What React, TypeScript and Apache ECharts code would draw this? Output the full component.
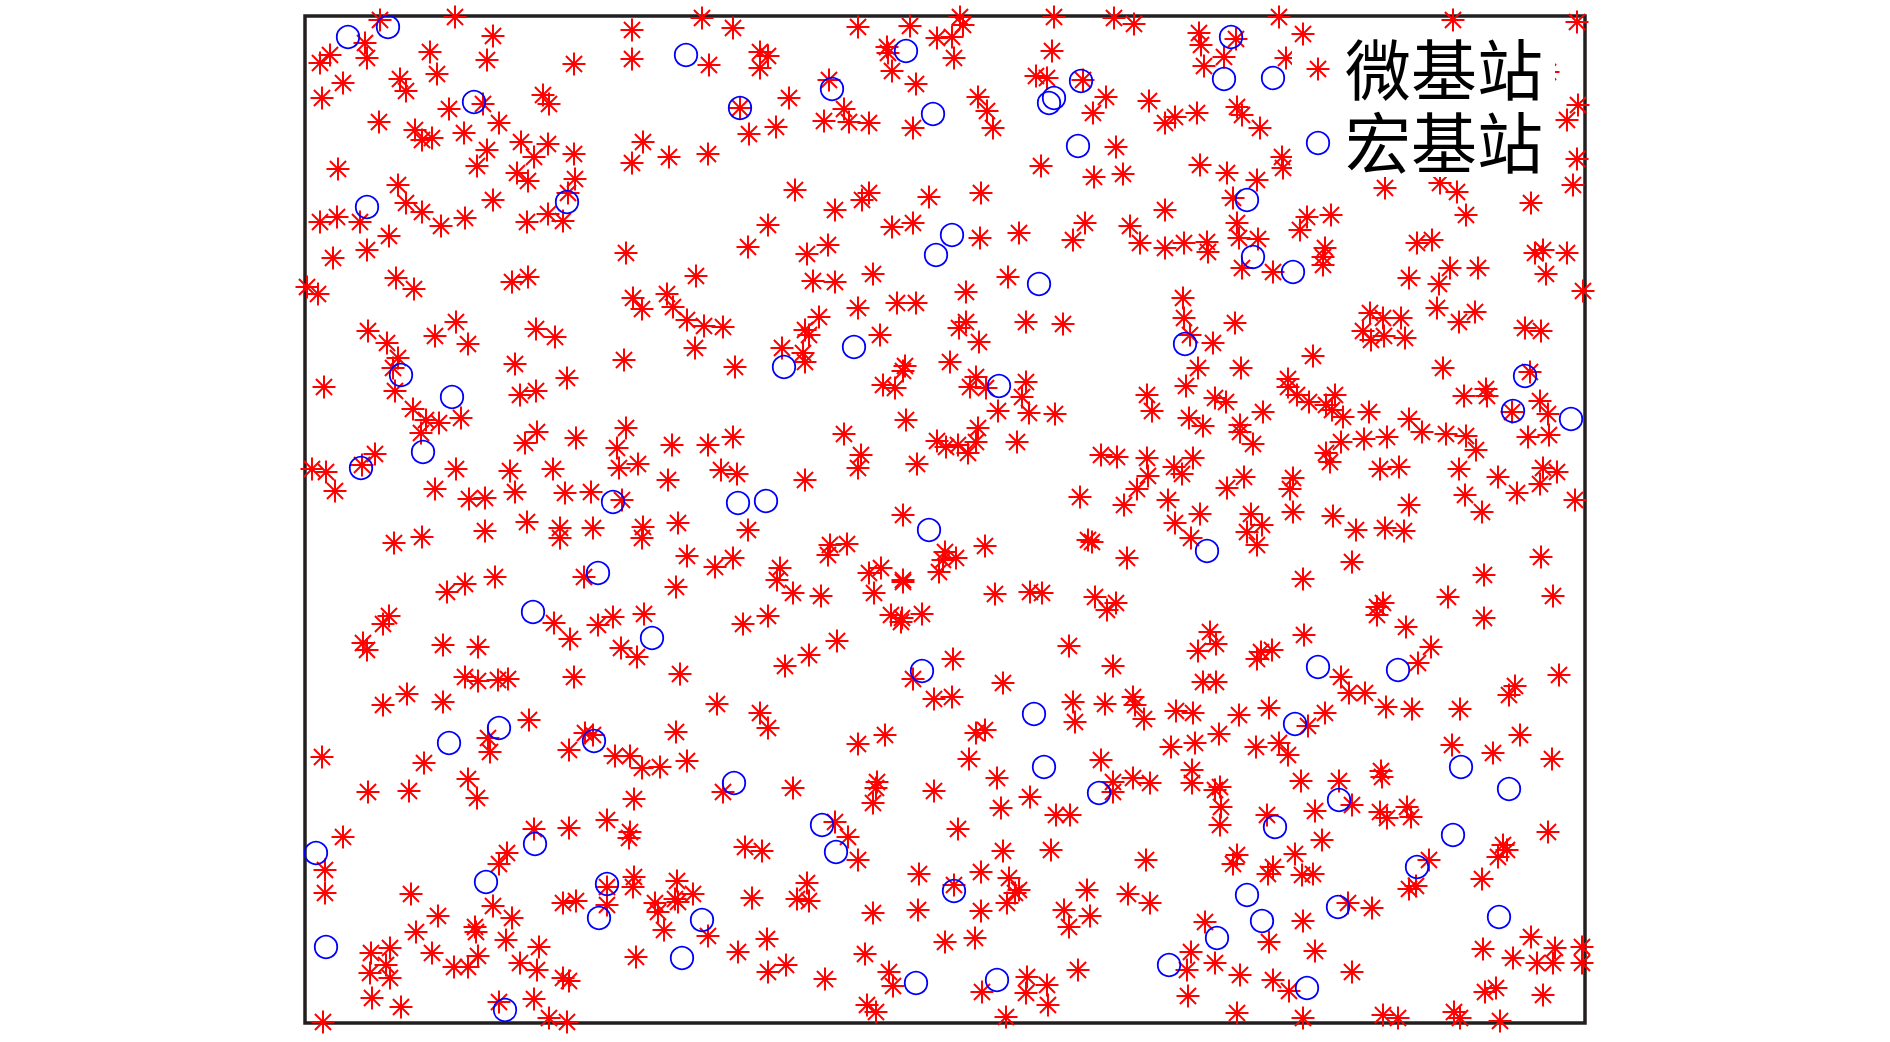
import React, { useEffect, useRef } from "react";
import * as echarts from "echarts";

// Plot area in data units (x: 0..1280, y: 0..1007)
const X_MAX = 1280;
const Y_MAX = 1007;

const seriesNames = ["微基站", "宏基站"];

// 微基站 (red asterisks)
const microBS: number[][] = [
  [75,1003],[150,1006],[188,987],[327,993],[397,1005],[60,980],[25,968],[15,960],[62,965],[125,971],
  [182,963],[269,959],[327,964],[404,958],[38,940],[95,944],[101,932],[132,949],[17,925],[144,914],
  [178,919],[238,928],[244,919],[74,901],[110,893],[117,883],[127,885],[159,890],[194,900],[216,881],
  [243,879],[182,873],[172,857],[229,866],[269,869],[212,850],[223,842],[270,844],[338,881],[327,860],
  [364,866],[403,869],[33,854],[93,838],[101,820],[117,811],[188,823],[263,830],[15,801],[32,806],
  [55,801],[84,787],[136,797],[160,805],[222,801],[243,809],[258,802],[28,765],[62,773],[321,770],
  [428,995],[553,996],[605,997],[655,1006],[658,998],[632,985],[647,986],[649,965],[749,1006],[809,1005],
  [829,999],[455,971],[463,967],[455,955],[582,976],[583,970],[587,952],[611,939],[747,972],[731,947],
  [742,945],[778,943],[801,926],[788,910],[844,922],[524,943],[484,925],[435,915],[444,889],[471,896],
  [519,902],[539,914],[544,901],[564,900],[608,895],[673,926],[682,912],[688,895],[811,876],[736,857],
  [789,846],[818,849],[490,833],[530,813],[557,823],[564,830],[624,826],[676,830],[463,798],[443,776],
  [502,769],[523,778],[587,796],[608,800],[675,785],[714,790],[780,800],[768,783],[825,797],[835,780],
  [974,1006],[1148,1003],[1272,1001],[894,990],[896,978],[931,984],[998,989],[919,966],[899,957],[981,965],
  [1243,951],[1273,918],[1262,903],[1272,864],[1268,838],[1226,820],[860,900],[870,906],[892,910],[932,916],
  [937,908],[955,895],[977,866],[978,855],[895,858],[922,850],[952,843],[928,825],[860,813],[932,800],
  [934,785],[953,784],[879,780],[902,781],[903,771],[860,775],[1002,806],[995,793],[1026,808],[1020,775],
  [1018,766],[1080,835],[1135,840],[1152,831],[1161,808],[1112,780],[1127,783],[1230,770],[1238,773],[1262,770],
  [2,736],[13,729],[91,745],[109,734],[207,741],[223,746],[391,747],[63,692],[82,680],[93,665],
  [88,655],[90,632],[130,687],[151,701],[163,679],[231,694],[250,686],[328,725],[337,714],[362,729],
  [368,716],[382,703],[399,697],[418,696],[390,675],[319,663],[210,659],[215,628],[231,632],[262,645],
  [19,636],[108,614],[121,603],[134,600],[156,605],[116,590],[70,569],[57,558],[7,554],[21,551],
  [30,532],[151,554],[130,534],[164,524],[180,525],[205,552],[210,531],[220,580],[232,591],[271,585],
  [248,554],[260,530],[286,531],[321,595],[312,575],[314,555],[333,559],[317,523],[367,578],[403,578],
  [416,553],[363,543],
  [508,742],[530,741],[568,749],[703,746],[661,731],[553,715],[592,720],[611,720],[721,701],[758,699],
  [514,706],[500,693],[504,688],[477,675],[498,670],[500,661],[430,656],[575,688],[654,695],[661,701],
  [674,681],[645,661],[600,657],[598,652],[578,638],[590,635],[671,646],[665,636],[681,635],[721,641],
  [717,626],[693,612],[724,610],[750,609],[842,628],[847,612],[601,603],[539,589],[428,586],[556,568],
  [553,555],[612,559],[632,582],[641,576],[653,578],[663,570],[673,595],[671,581],[712,581],[500,543],
  [432,549],[796,568],[812,566],[842,565],[843,547],[832,534],[775,526],[819,518],[598,508],
  [937,755],[968,751],[1018,758],[1104,745],[1134,739],[1145,755],[1173,755],[1241,749],[1278,732],[878,725],
  [879,705],[885,688],[930,700],[908,680],[893,655],[936,655],[881,637],[1008,667],[1065,710],[1078,705],
  [1096,705],[1058,692],[1066,683],[1079,687],[1100,685],[1132,715],[1154,701],[1170,711],[1220,695],[1236,692],
  [1138,655],[1225,651],[983,644],[983,636],[992,628],[1004,621],[1021,618],[1030,628],[1027,613],[1038,606],
  [1064,611],[910,625],[921,621],[958,611],[884,605],[898,597],[935,598],[935,591],[948,579],[1159,627],
  [1181,634],[1182,627],[1207,611],[1235,622],[1243,609],[1223,586],[1244,588],[1104,604],[1117,591],[1141,589],
  [1161,587],[1171,573],[1082,586],[1059,584],[1036,581],[1021,570],[1025,561],[869,556],[877,549],[888,565],
  [939,546],[922,535],[988,545],[985,534],[1075,554],[1094,556],[1154,554],[1193,546],[1212,530],[1238,555],
  [1252,551],[1235,539],[1160,528],[1270,523],[863,523],[1104,518],[1177,511],[895,509],[946,509],[988,511],
  [1028,507],
  [222,501],[255,495],[255,485],[288,495],[338,496],[337,485],[373,500],[180,492],[89,480],[117,486],
  [382,467],[410,456],[428,465],[190,446],[160,439],[142,431],[279,446],[371,436],[84,407],[78,399],
  [58,380],[62,373],[138,378],[173,376],[249,400],[265,384],[293,398],[308,406],[339,409],[316,375],
  [332,366],[269,346],[375,349],[160,346],[173,342],[193,343],[203,344],[78,318],[102,329],[138,321],
  [412,319],[224,303],[183,285],[185,271],[280,290],[288,288],[264,273],[371,291],[310,267],[325,267],
  [337,255],[355,256],[382,262],[17,266],[119,260],
  [443,493],[525,478],[542,479],[523,468],[475,455],[472,443],[488,430],[516,427],[564,450],[576,455],
  [569,430],[598,443],[598,441],[586,408],[597,405],[596,401],[617,409],[640,471],[651,465],[638,463],
  [634,451],[680,477],[690,429],[725,431],[737,430],[783,483],[787,481],[822,465],[790,426],[802,413],
  [811,420],[438,399],[463,407],[532,382],[504,368],[480,357],[648,364],[608,344],[629,324],[647,326],
  [698,340],[764,377],[808,357],[455,310],[463,295],[553,279],[580,288],[671,290],[680,293],[664,264],
  [768,321],[770,301],[800,319],[828,326],[830,318],[839,304],[796,263],
  [870,500],[942,491],[957,498],[952,478],[1051,493],[1080,495],[1099,492],[886,485],[1047,461],[998,444],
  [1236,466],[1179,448],[1143,426],[1248,427],[1179,405],[1072,416],[1078,420],[1072,408],[1101,396],[905,391],
  [911,379],[893,372],[956,371],[967,373],[952,364],[999,388],[1126,376],[1113,360],[898,341],[911,341],
  [1036,346],[1044,330],[1060,330],[1081,316],[1107,314],[1155,314],[1210,337],[1204,328],[1254,348],[871,312],
  [888,310],[934,308],[964,315],[1020,310],[1003,297],[914,289],[890,280],[866,276],[951,276],[974,280],
  [983,268],[1147,278],[1188,270],[1215,288],[1247,264],[887,253],[1076,252],
  [63,231],[104,232],[163,244],[172,225],[329,224],[418,231],[38,186],[20,153],[20,130],[106,129],
  [229,194],[264,195],[302,203],[325,191],[324,185],[202,170],[194,159],[329,146],[328,136],[302,136],
  [302,118],[258,120],[271,122],[188,117],[207,105],[133,107],[111,91],[170,96],[171,91],[201,83],
  [372,142],[388,129],[350,120],[370,124],[373,121],[353,111],[359,93],[403,87],[66,70],[85,75],
  [81,58],[65,50],[85,45],[127,70],[149,56],[163,56],[173,67],[234,76],[215,60],[232,53],
  [258,45],[264,42],[331,66],[67,25],[96,16],[194,21],[229,24],[244,5],[262,1],[18,1],
  [488,235],[572,241],[571,235],[568,220],[629,232],[692,245],[696,215],[725,226],[751,208],[765,208],
  [808,241],[808,231],[828,245],[845,240],[530,201],[543,186],[553,163],[440,176],[457,172],[653,194],
  [698,172],[746,173],[841,163],[614,149],[502,140],[492,124],[504,122],[447,125],[568,110],[613,113],
  [649,138],[676,151],[704,145],[714,133],[710,130],[702,120],[676,112],[782,133],[823,129],[845,120],
  [759,113],[785,107],[764,96],[670,85],[640,81],[462,84],[433,71],[463,51],[481,58],[520,44],
  [560,69],[584,51],[588,37],[562,18],[571,11],[677,31],[722,46],[721,30],[742,38],[743,18],
  [701,6],[773,53],
  [887,240],[915,236],[910,233],[916,216],[915,198],[996,242],[1034,242],[1077,246],[1047,218],[1010,212],
  [962,208],[1075,211],[1082,205],[1102,216],[1106,206],[1017,183],[1243,191],[1198,178],[1202,173],[1193,166],
  [932,168],[928,159],[968,156],[963,149],[990,169],[997,148],[1008,149],[1124,163],[1111,137],[1104,134],
  [1177,144],[1043,120],[1067,115],[900,101],[998,102],[964,81],[1010,72],[886,71],[882,53],[910,60],
  [935,48],[968,43],[984,32],[883,27],[932,10],[998,5],[1047,51],[1078,8],[1093,5],[1149,11],
  [1155,5],[1195,2],[1178,74],[1208,65],[1226,86],[1232,60],[1250,75],[1248,60],[1277,76],[1277,60],
  [1180,31],[1191,35],[1238,28],
];

// 宏基站 (blue circles)
const macroBS: number[][] = [
  [43,986],[83,996],[381,968],[169,921],[62,816],[262,821],
  [601,972],[527,934],[435,915],[628,909],[776,942],[749,925],[744,920],[773,877],[647,788],[631,768],
  [926,986],[919,944],[968,945],[942,823],[948,766],
  [96,648],[147,626],[118,571],[56,555],[308,521],[433,520],
  [734,739],[549,676],[479,656],[694,637],[461,522],
  [988,751],[880,679],[1220,647],[1208,612],[1266,604],
  [293,450],[228,411],[347,385],[144,280],[194,295],[289,282],
  [624,493],[617,352],[729,309],[739,256],
  [902,472],[1013,356],[1093,353],[990,299],[1156,256],
  [11,170],[21,76],[181,141],[230,179],[302,139],[294,105],[397,103],[377,65],[200,13],[429,240],
  [794,230],[517,198],[531,171],[649,132],[611,40],[692,43],
  [1204,234],[1034,223],[970,196],[1148,188],[1112,156],[942,128],[957,102],[1033,116],[1194,106],[912,85],
  [864,58],[1002,35],
];

// legend key positions (data units), one per entry
const legendKeyX = 1013;
const legendKeyY = [954, 880];

const STAR = "path://M10,0L10,20M0,10L20,10M3,3L17,17M3,17L17,3";
const RED = "#ff0000";
const BLUE = "#0000ff";

export default function App() {
  const ref = useRef<HTMLDivElement>(null);

  useEffect(() => {
    if (!ref.current) return;
    const chart = echarts.init(ref.current, undefined, { renderer: "svg" });
    const Z = 100;
    const starStyle = { color: "rgba(0,0,0,0)", borderColor: RED, borderWidth: 2, opacity: 1 };
    const circleStyle = { color: "rgba(0,0,0,0)", borderColor: BLUE, borderWidth: 1.8, opacity: 1 };

    chart.setOption({
      animation: false,
      backgroundColor: "#ffffff",
      grid: {
        left: 305,
        top: 16,
        width: 1280,
        height: 1007,
        show: true,
        borderColor: "#231f20",
        borderWidth: 3.5,
        backgroundColor: "transparent",
        containLabel: false,
      },
      xAxis: { type: "value", min: 0, max: X_MAX, show: false },
      yAxis: { type: "value", min: 0, max: Y_MAX, show: false },
      series: [
        {
          name: seriesNames[0],
          type: "scatter",
          data: microBS,
          symbol: STAR,
          symbolSize: 23,
          clip: false,
          silent: true,
          itemStyle: starStyle,
        },
        {
          name: seriesNames[1],
          type: "scatter",
          data: macroBS,
          symbol: "circle",
          symbolSize: 22.5,
          clip: false,
          silent: true,
          itemStyle: circleStyle,
        },
        {
          name: "legend-key-star",
          type: "scatter",
          z: Z + 5,
          data: [[legendKeyX, legendKeyY[0]]],
          symbol: STAR,
          symbolSize: 23,
          clip: false,
          silent: true,
          itemStyle: starStyle,
        },
        {
          name: "legend-key-circle",
          type: "scatter",
          z: Z + 5,
          data: [[legendKeyX, legendKeyY[1]]],
          symbol: "circle",
          symbolSize: 22.5,
          clip: false,
          silent: true,
          itemStyle: circleStyle,
        },
      ],
      graphic: [
        {
          type: "rect",
          z: Z,
          silent: true,
          shape: { x: 1292, y: 46, width: 263, height: 131 },
          style: { fill: "#ffffff" },
        },
        {
          type: "text",
          z: Z + 1,
          silent: true,
          x: 1345,
          y: 102.5,
          style: {
            text: seriesNames.join("\n"),
            fontSize: 66,
            fontFamily: '"Noto Sans CJK SC", sans-serif',
            fill: "#000000",
            verticalAlign: "middle",
            align: "left",
            lineHeight: 73,
          },
        },
      ],
    });
    return () => chart.dispose();
  }, []);

  return (
    <div
      ref={ref}
      style={{ position: "fixed", left: 0, top: 0, width: 1890, height: 1042, background: "#fff" }}
    />
  );
}
